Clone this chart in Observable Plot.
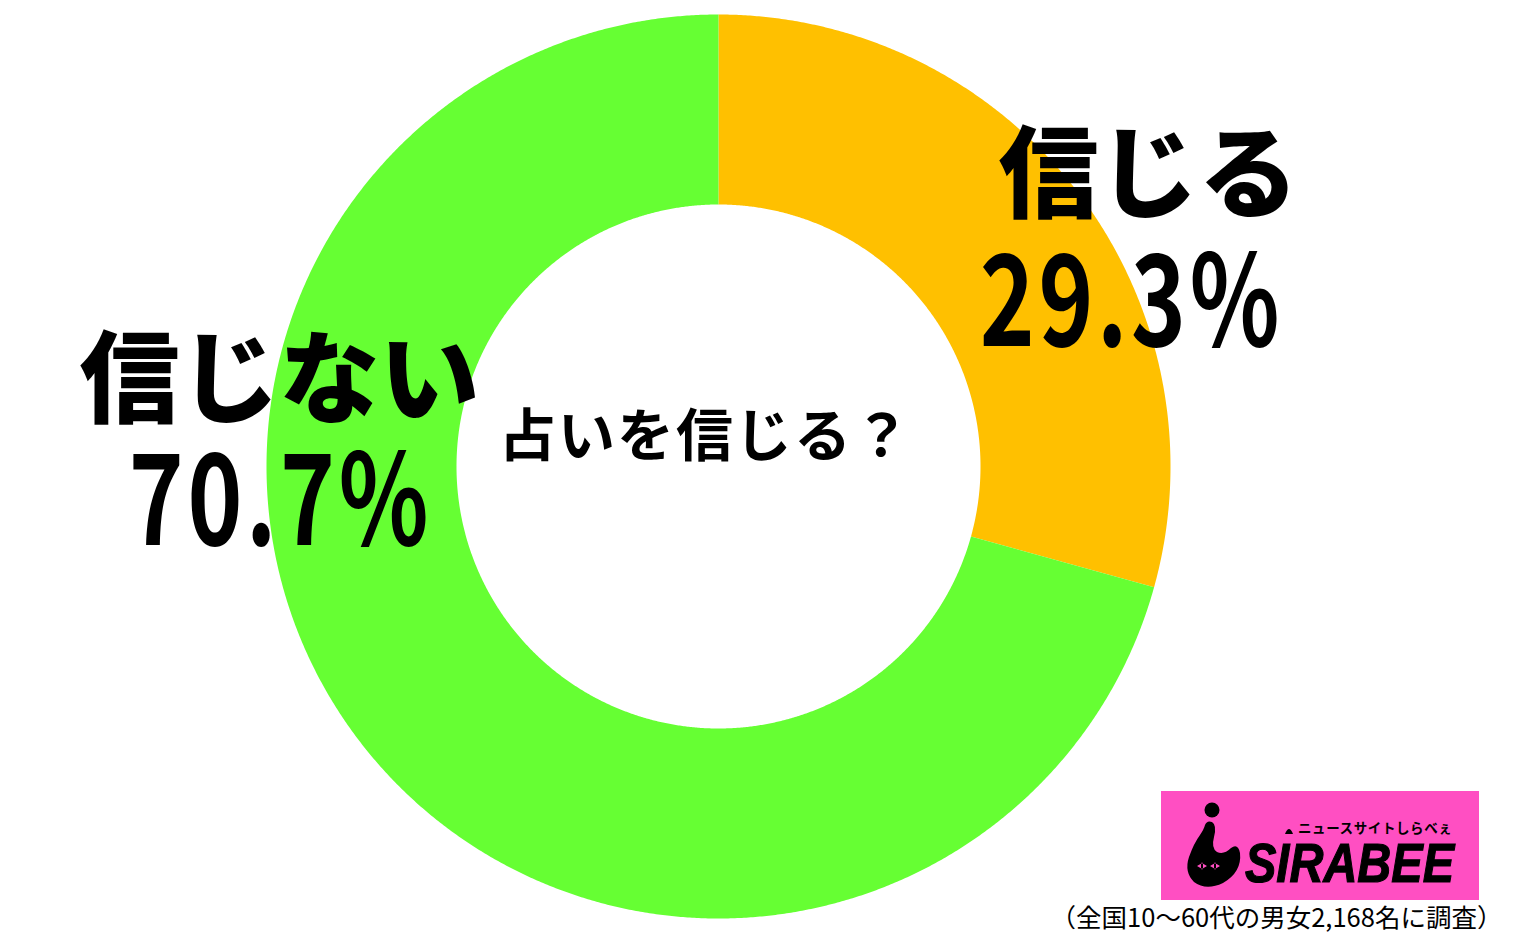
<!DOCTYPE html>
<html><head><meta charset="utf-8">
<script src="https://cdn.jsdelivr.net/npm/d3@7"></script>
<script src="https://cdn.jsdelivr.net/npm/@observablehq/plot@0.6"></script>
<style>
html,body{margin:0;padding:0;background:#fff;overflow:hidden}
#wrap{position:relative;width:1536px;height:947px}
#logo{position:absolute;left:1161px;top:791px;width:318px;height:109px;background:#ff4fc2;overflow:hidden}
#logo svg{position:absolute;left:0;top:0}
</style></head><body><div id="wrap"></div>
<script>
// ---- data ----
const categories = ["信じる", "信じない"];
const values = [29.3, 70.7];
const valueLabels = ["29.3%", "70.7%"];
const colors = ["#FFC000", "#66FF33"];
const question = "占いを信じる？";
const caption = "（全国10〜60代の男女2,168名に調査）";

// ---- layout (pixels) ----
const W = 1536, H = 947;
const cx = 718, cy = 466, R = 452, r = 262;
const namePos = [[1148, 177], [279, 382]];
const valuePos = [[1131, 305], [280, 504]];
const questionPos = [705, 437];
const captionPos = [1276, 918];

const pie = d3.pie().sort(null).value(d => d.value);
const arcs = pie(categories.map((c, i) => ({category: c, value: values[i]})));
function ring(a) {
  const n = Math.max(8, Math.ceil((a.endAngle - a.startAngle) / 0.005));
  const outer = [], inner = [];
  for (let k = 0; k <= n; k++) {
    const t = a.startAngle + (a.endAngle - a.startAngle) * k / n;
    outer.push([cx + R * Math.sin(t), cy - R * Math.cos(t)]);
    inner.push([cx + r * Math.sin(t), cy - r * Math.cos(t)]);
  }
  const pts = outer.concat(inner.reverse());
  pts.push(pts[0]);
  return {type: "Feature", properties: {category: a.data.category}, geometry: {type: "Polygon", coordinates: [pts]}};
}
const features = {type: "FeatureCollection", features: arcs.map(ring)};

const font = "'Noto Sans CJK JP', 'Noto Sans', sans-serif";
const plot = Plot.plot({
  width: W, height: H, margin: 0,
  projection: {type: "identity"},
  color: {domain: categories, range: colors},
  style: {fontFamily: font, background: "white", overflow: "visible"},
  marks: [
    Plot.geo(features, {fill: d => d.properties.category, stroke: "none"}),
    Plot.text(categories, {x: (d, i) => namePos[i][0], y: (d, i) => namePos[i][1], text: d => d,
      fontSize: 100, fontWeight: 900, fill: "black", className: "names"}),
    Plot.text(valueLabels, {x: (d, i) => valuePos[i][0], y: (d, i) => valuePos[i][1], text: d => d,
      fontSize: 126, fontWeight: 700, fill: "black", className: "vals"}),
    Plot.text([question], {x: () => questionPos[0], y: () => questionPos[1], text: d => d,
      fontSize: 57, fontWeight: 700, fill: "black", className: "question"}),
    Plot.text([caption], {x: () => captionPos[0], y: () => captionPos[1], text: d => d,
      fontSize: 25.5, fontWeight: 400, fill: "black"})
  ]
});
plot.querySelectorAll(".vals text").forEach(t => {
  t.style.letterSpacing = "5px";
  const tr = t.getAttribute("transform") || "";
  t.setAttribute("transform", tr + " scale(0.74,1)");
});
plot.querySelectorAll(".question text").forEach(t => t.style.letterSpacing = "2px");
const wrap = document.getElementById("wrap");
wrap.appendChild(plot);

// logo badge
const logo = document.createElement("div");
logo.id = "logo";
logo.innerHTML = `<svg width="318" height="109" xmlns="http://www.w3.org/2000/svg">
<circle cx="51" cy="19" r="7.5" fill="#000"/>
<path d="M44 34 Q46 29 51 31 Q56 34 53 46 Q50 57 56 61 Q63 64 70 57 Q77 52 79 62 Q81 81 62 92 Q45 100 33 91 Q23 81 28 66 Q33 52 39 44 Q43 38 44 34 Z" fill="#000"/>
<path d="M36 75 L42 71.5 L42 78.5 Z M46 75 L40 71.5 L40 78.5Z" fill="#ff4fc2"/>
<path d="M59 75 L53 71.5 L53 78.5 Z M49 75 L55 71.5 L55 78.5Z" fill="#ff4fc2"/>
<path d="M124 43 Q128 33 132 43 Z" fill="#000"/>
<text x="137" y="42" font-family="'Noto Sans CJK JP', sans-serif" font-weight="700" font-size="13.5" letter-spacing="0.6" fill="#000">ニュースサイトしらべぇ</text>
<text x="84" y="91" transform="translate(84 0) scale(0.84 1) translate(-84 0)" font-family="'Liberation Sans', Arial, sans-serif" font-weight="700" font-style="italic" font-size="56" stroke="#000" stroke-width="1.2" fill="#000">SIRABEE</text>
</svg>`;
wrap.appendChild(logo);
</script>
</body></html>
